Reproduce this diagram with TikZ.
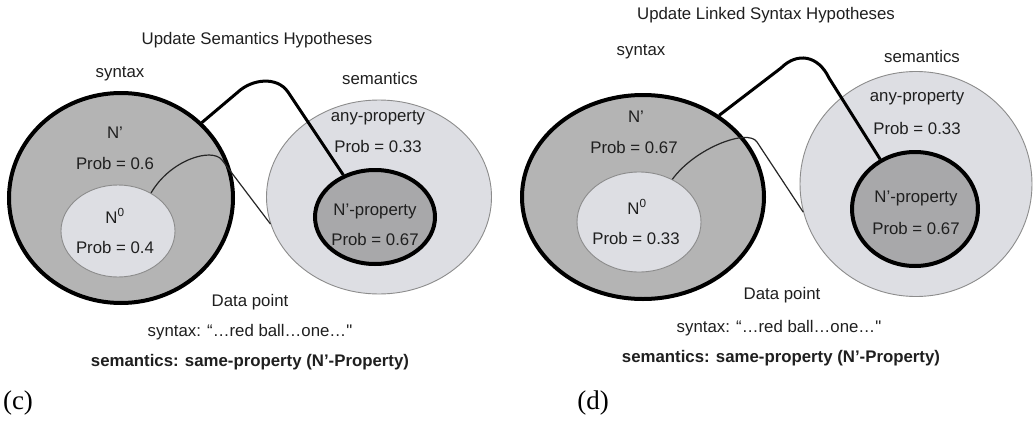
\documentclass[tikz,border=0pt]{standalone}
\usepackage{fontspec}
\setmainfont{Liberation Sans}
\newfontfamily\rawsans{Liberation Sans}
\newfontfamily\labserif{Liberation Serif}
\usetikzlibrary{shapes.geometric}
\definecolor{synfill}{RGB}{180,180,180}
\definecolor{npfill}{RGB}{168,168,170}
\definecolor{lightfill}{RGB}{221,222,227}
\definecolor{thinborder}{RGB}{140,140,140}
\newcommand{\sq}{{\rawsans\char"22\relax}}
\tikzset{
  txt/.style={inner sep=0pt, font=\fontsize{16.8}{19}\selectfont, text=black!88},
  boldtxt/.style={txt, font=\fontsize{16.8}{19}\selectfont\bfseries},
  panellab/.style={inner sep=0pt, font=\fontsize{27}{30}\selectfont\labserif},
  bigset/.style={ellipse, inner sep=0pt, draw=black, line width=4pt, fill=synfill},
  subset/.style={ellipse, inner sep=0pt, draw=thinborder, line width=0.9pt, fill=lightfill},
  semset/.style={ellipse, inner sep=0pt, draw=thinborder, line width=0.9pt, fill=lightfill},
  npset/.style={ellipse, inner sep=0pt, draw=black, line width=4pt, fill=npfill},
  thicklink/.style={draw=black, line width=3pt},
  thinlink/.style={draw=black!85, line width=1.2pt},
}
\begin{document}
\begin{tikzpicture}[x=1pt, y=-1pt]
\useasboundingbox[fill=white] (0,0) rectangle (1034,423);

% ===== Panel (c) =====
\node[txt] (titleC) at (257,40) {Update Semantics Hypotheses};
\node[txt] (synlabC) at (120,74) {syntax};
\node[txt] (semlabC) at (380,78) {semantics};

\node[semset, minimum width=225pt, minimum height=194pt] (semC) at (379,197) {};
\node[npset, minimum width=120pt, minimum height=94pt] (npC) at (375,217) {};
\node[bigset, minimum width=224pt, minimum height=210pt] (synC) at (121,198) {};
\node[subset, minimum width=114pt, minimum height=92pt] (n0C) at (118,231) {};

\node[txt] (npC1) at (115,133) {N’};
\node[txt] (npC2) at (115,163) {Prob = 0.6};
\node[txt] (n0C1) at (115,216) {N\textsuperscript{0}};
\node[txt] (n0C2) at (115,247) {Prob = 0.4};
\node[txt] (anyC1) at (378,118) {any-property};
\node[txt] (anyC2) at (378,146) {Prob = 0.33};
\node[txt] (nprC1) at (375,211) {N’-property};
\node[txt] (nprC2) at (375,239) {Prob = 0.67};

\draw[thicklink] (synC.43) -- (238,92) .. controls (252,79) and (277,76) .. (288,92) -- (npC.127);
\draw[thinlink] (n0C.49) .. controls (170,160) and (212,147) .. (222,160) -- (semC.194);

\node[txt] (dataC) at (250,302) {Data point};
\node[txt] (synDataC) at (250,332) {syntax: “…red ball…one…\sq};
\node[boldtxt] (semDataC) at (250,362) {semantics: same-property (N’-Property)};
\node[panellab] (labC) at (18,403) {(c)};

% ===== Panel (d) =====
\node[txt] (titleD) at (766,15) {Update Linked Syntax Hypotheses};
\node[txt] (synlabD) at (641,52) {syntax};
\node[txt] (semlabD) at (922,56) {semantics};

\node[semset, minimum width=232pt, minimum height=225pt] (semD) at (916,184) {};
\node[npset, minimum width=126pt, minimum height=114pt] (npD) at (915,209) {};
\node[bigset, minimum width=242pt, minimum height=204pt] (synD) at (643,197) {};
\node[subset, minimum width=124pt, minimum height=100pt] (n0D) at (639,222) {};

\node[txt] (npD1) at (636,117) {N’};
\node[txt] (npD2) at (634,147) {Prob = 0.67};
\node[txt] (n0D1) at (637,207) {N\textsuperscript{0}};
\node[txt] (n0D2) at (636,238) {Prob = 0.33};
\node[txt] (anyD1) at (917,98) {any-property};
\node[txt] (anyD2) at (917,128) {Prob = 0.33};
\node[txt] (nprD1) at (916,198) {N’-property};
\node[txt] (nprD2) at (916,228) {Prob = 0.67};

\draw[thicklink] (synD.47) -- (781,68) .. controls (797,52) and (818,55) .. (829,78) -- (npD.125);
\draw[thinlink] (n0D.52) .. controls (695,148) and (748,128) .. (757,142) -- (semD.194);

\node[txt] (dataD) at (782,295) {Data point};
\node[txt] (synDataD) at (779,328) {syntax: “…red ball…one…\sq};
\node[boldtxt] (semDataD) at (781,358) {semantics: same-property (N’-Property)};
\node[panellab] (labD) at (593,403) {(d)};
\end{tikzpicture}
\end{document}
